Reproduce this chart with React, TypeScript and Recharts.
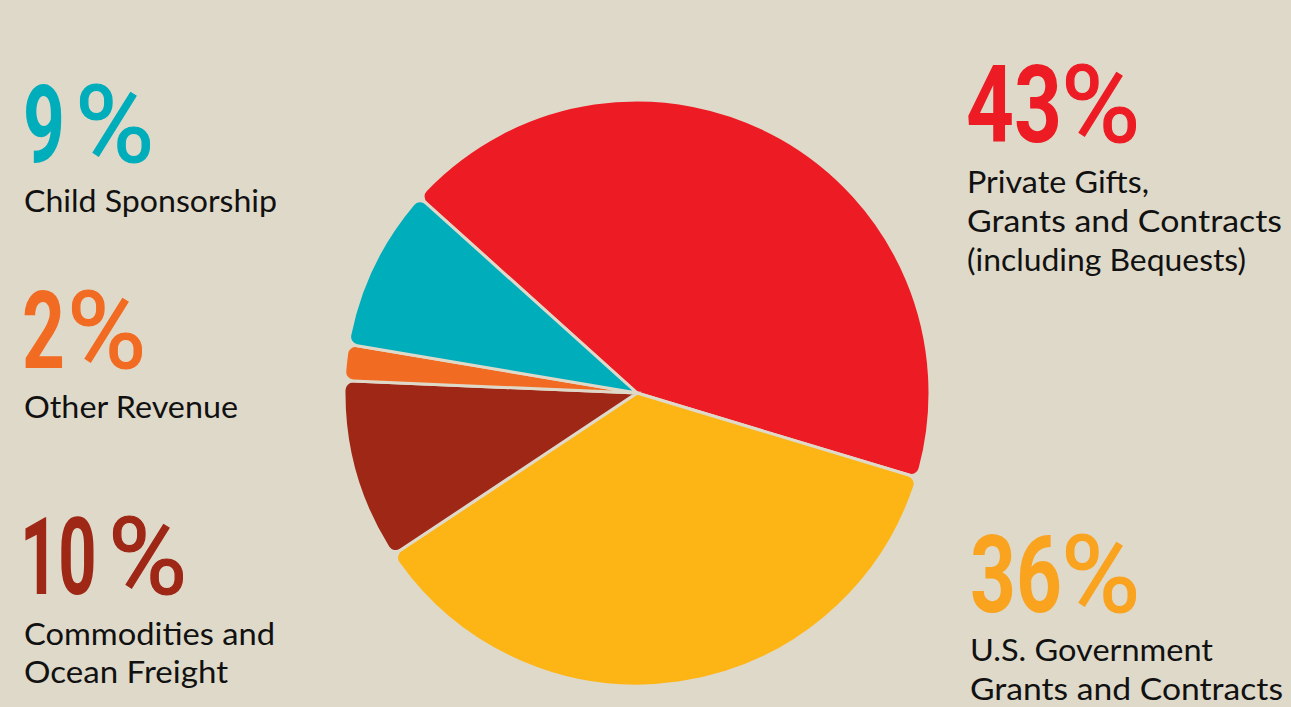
import React from "react";
import { PieChart, Pie, Cell } from "recharts";

const categories = [
  "Private Gifts, Grants and Contracts (including Bequests)",
  "U.S. Government Grants and Contracts",
  "Commodities and Ocean Freight",
  "Other Revenue",
  "Child Sponsorship",
];
const shares = [43, 36, 10, 2, 9];
const sliceColors = ["#ed1c24", "#fdb415", "#9e2716", "#f26b22", "#00adbb"];
const pctLabels = ["43", "36", "10", "2", "9"];
const pctColors = ["#ed1c24", "#f9a31f", "#9e2716", "#f26b22", "#00adbb"];
const labelLines = [
  ["Private Gifts,", "Grants and Contracts", "(including Bequests)"],
  ["U.S. Government", "Grants and Contracts"],
  ["Commodities and", "Ocean Freight"],
  ["Other Revenue"],
  ["Child Sponsorship"],
];

const BG = "#dfd9c9";

const data = categories.map((name, i) => ({ name, value: shares[i] }));

// layout of text blocks (positions only)
const blocks = [
  { x: 966, top: 65, dW: 94, px: 1061, lx: 967, lineBase: [193, 232, 271], lineW: [182, 315, 279] },
  { x: 970, top: 535, dW: 90, px: 1061, lx: 970, lineBase: [661, 700], lineW: [243, 313] },
  { x: 20, top: 517, dW: 75, px: 108, lx: 24, lineBase: [645, 683], lineW: [251, 204] },
  { x: 22, top: 291, dW: 42, px: 67, lx: 24, lineBase: [418], lineW: [214] },
  { x: 23, top: 85, dW: 41, px: 75, lx: 24, lineBase: [212], lineW: [253] },
];

const BIG = 108;
const CAP = 77;
const DIGIT_ADV = 0.5615 * BIG;

export default function App() {
  return (
    <div
      style={{
        position: "absolute",
        left: 0,
        top: 0,
        width: 1291,
        height: 707,
        background: BG,
        overflow: "hidden",
      }}
    >
      <PieChart width={1291} height={707} margin={{ top: 0, right: 0, bottom: 0, left: 0 }}>
        <Pie
          data={data}
          dataKey="value"
          nameKey="name"
          cx={637}
          cy={393}
          outerRadius={293}
          startAngle={138}
          endAngle={-222}
          cornerRadius={9}
          stroke={BG}
          strokeWidth={3}
          isAnimationActive={false}
        >
          {data.map((d, i) => (
            <Cell key={d.name} fill={sliceColors[i]} stroke={BG} strokeWidth={3} />
          ))}
        </Pie>
      </PieChart>
      <svg
        width={1291}
        height={707}
        style={{ position: "absolute", left: 0, top: 0, pointerEvents: "none" }}
      >
        {blocks.map((b, i) => {
          const sx = b.dW / (DIGIT_ADV * pctLabels[i].length);
          return (
            <g key={i}>
              <text
                x={0}
                y={0}
                transform={`translate(${b.x} ${b.top + CAP}) scale(${sx} 1)`}
                fill={pctColors[i]}
                fontFamily="Roboto, sans-serif"
                fontWeight={700}
                fontSize={BIG}
              >
                {pctLabels[i]}
              </text>
              <text
                x={b.px}
                y={b.top + CAP}
                fill={pctColors[i]}
                stroke={pctColors[i]}
                strokeWidth={1.2}
                fontFamily="Roboto, sans-serif"
                fontWeight={400}
                fontSize={BIG}
              >
                %
              </text>
              {labelLines[i].map((line, j) => (
                <text
                  key={j}
                  x={b.lx}
                  y={b.lineBase[j]}
                  fill="#111"
                  fontFamily="Lato, sans-serif"
                  fontSize={31}
                  textLength={b.lineW[j]}
                  lengthAdjust="spacingAndGlyphs"
                >
                  {line}
                </text>
              ))}
            </g>
          );
        })}
      </svg>
    </div>
  );
}
